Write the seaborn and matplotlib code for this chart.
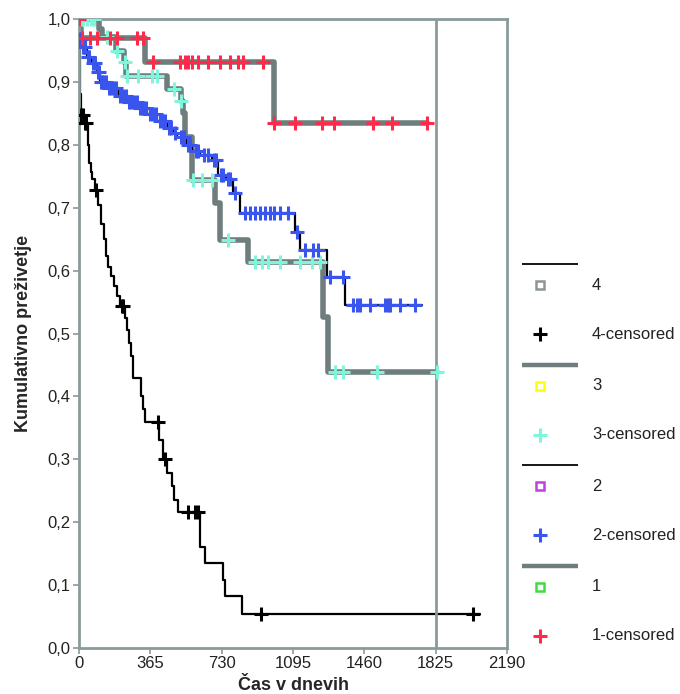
import numpy as np
import pandas as pd
import seaborn as sns
import matplotlib
matplotlib.use("Agg")
import matplotlib.pyplot as plt

# Kaplan-Meier steps (time in days, survival after each step)
g1_t = [0, 4, 8, 338, 998, 1781]
g1_s = [1.0, 0.985, 0.970, 0.932, 0.835, 0.835]
g1_cens = [0, 15, 56, 92, 159, 194, 297, 328, 379, 517, 542, 558, 578, 609, 660,
           722, 773, 814, 839, 942, 998, 1105, 1244, 1305, 1505, 1602, 1781]

g2_t = [0, 2, 15, 40, 60, 90, 110, 150, 200, 250, 300, 350, 400, 450, 480, 500,
        545, 580, 620, 680, 711, 750, 788, 824, 1105, 1131, 1269, 1361, 1755]
g2_s = [1.0, 0.968, 0.955, 0.940, 0.930, 0.915, 0.900, 0.890, 0.877, 0.868, 0.858,
        0.849, 0.838, 0.826, 0.819, 0.812, 0.800, 0.790, 0.783, 0.776, 0.752, 0.745,
        0.723, 0.692, 0.661, 0.633, 0.590, 0.545, 0.545]
g2_cens = [5, 10, 20, 25, 30, 45, 50, 70, 80, 95, 100, 115, 120, 130, 140, 155, 165,
           180, 190, 210, 225, 240, 255, 265, 280, 295, 310, 320, 330, 345, 365, 380,
           395, 415, 430, 440, 460, 470, 490, 520, 535, 560, 570, 600, 610, 640, 660,
           690, 700, 725, 735, 760, 775, 800, 849, 875, 900, 925, 952, 977, 1000,
           1029, 1069, 1115, 1156, 1197, 1223, 1284, 1351, 1402, 1420, 1438, 1489,
           1566, 1580, 1592, 1643, 1719]

g3_t = [0, 100, 118, 190, 230, 240, 450, 520, 530, 540, 578, 696, 721, 865, 1249,
        1274, 1832]
g3_s = [1.0, 0.984, 0.971, 0.949, 0.932, 0.909, 0.889, 0.870, 0.850, 0.812, 0.744,
        0.707, 0.649, 0.614, 0.526, 0.439, 0.439]
g3_cens = [5, 20, 40, 60, 75, 143, 194, 235, 246, 300, 374, 400, 486, 522, 583, 629,
           681, 762, 901, 936, 967, 1029, 1131, 1192, 1233, 1310, 1351, 1525, 1832]

g4_t = [0, 1, 3, 5, 8, 25, 45, 51, 60, 67, 80, 97, 113, 128, 136, 150, 164, 178, 195,
        210, 235, 246, 258, 266, 276, 317, 328, 338, 410, 430, 450, 476, 486, 507,
        619, 645, 737, 745, 834, 2052]
g4_s = [1.0, 0.96, 0.92, 0.88, 0.847, 0.835, 0.80, 0.771, 0.757, 0.745, 0.728, 0.704,
        0.674, 0.650, 0.623, 0.605, 0.591, 0.575, 0.560, 0.543, 0.525, 0.505, 0.485,
        0.465, 0.429, 0.40, 0.38, 0.359, 0.33, 0.30, 0.278, 0.257, 0.235, 0.216,
        0.161, 0.135, 0.108, 0.083, 0.054, 0.054]
g4_cens = [12, 18, 30, 38, 87, 220, 225, 404, 440, 558, 595, 609, 931, 2016]

x_ticks = [0, 365, 730, 1095, 1460, 1825, 2190]
y_ticks = [0.0, 0.1, 0.2, 0.3, 0.4, 0.5, 0.6, 0.7, 0.8, 0.9, 1.0]
y_labels = ["0,0", "0,1", "0,2", "0,3", "0,4", "0,5", "0,6", "0,7", "0,8", "0,9", "1,0"]

groups = ["4", "3", "2", "1"]
curves = {"4": (g4_t, g4_s, g4_cens), "3": (g3_t, g3_s, g3_cens),
          "2": (g2_t, g2_s, g2_cens), "1": (g1_t, g1_s, g1_cens)}

GRAY = "#6f7d7d"
FRAME = "#8a9a9a"
line_col = {"4": "black", "3": GRAY, "2": "black", "1": GRAY}
line_w = {"4": 1.6, "3": 4.0, "2": 1.6, "1": 4.0}
cross_col = {"4": "black", "3": "#7ff5dc", "2": "#3a55ee", "1": "#ff2a4a"}
square_col = {"4": "#8c9696", "3": "#ffff00", "2": "#c040e0", "1": "#40dd40"}

sns.set_style("white", {"xtick.bottom": True, "ytick.left": True})
plt.rcParams["font.family"] = ["Liberation Sans", "DejaVu Sans"]

fig = plt.figure(figsize=(6.8, 6.94), dpi=100)
ax = fig.add_axes([79 / 680, 46 / 694, 428 / 680, 629 / 694])

for g in groups:
    t, s, _ = curves[g]
    sns.lineplot(x=t, y=s, drawstyle="steps-post", color=line_col[g],
                 lw=line_w[g], ax=ax, sort=False, estimator=None)

for g in groups:
    t, s, cens = curves[g]
    idx = np.searchsorted(t, cens, side="right") - 1
    cy = np.array(s)[np.clip(idx, 0, len(s) - 1)]
    df = pd.DataFrame({"t": cens, "s": cy})
    sns.scatterplot(data=df, x="t", y="s", marker="+", s=110, linewidth=2.2,
                    color=cross_col[g], ax=ax, zorder=5)

ax.axvline(1825, color=FRAME, lw=2)
ax.set_xlim(0, 2190)
ax.set_ylim(0, 1.0)
ax.set_xticks(x_ticks)
ax.set_yticks(y_ticks)
ax.set_yticklabels(y_labels)
ax.tick_params(axis="both", direction="out", length=4, width=1.2, color=FRAME,
               labelsize=12, pad=2, bottom=True, left=True, labelcolor="#222222")
for sp in ax.spines.values():
    sp.set_color(FRAME)
    sp.set_linewidth(2)
ax.set_xlabel("Čas v dnevih", fontsize=13, fontweight="bold", labelpad=4)
ax.set_ylabel("Kumulativno preživetje", fontsize=13, fontweight="bold", labelpad=11)

# legend drawn on an overlay in pixel coordinates
lax = fig.add_axes([0, 0, 1, 1])
lax.set_xlim(0, 680)
lax.set_ylim(694, 0)
lax.axis("off")
for i, g in enumerate(groups):
    y0 = 264 + 100.5 * i
    lax.plot([522, 578], [y0, y0], color=line_col[g], lw=line_w[g] * 0.8,
             solid_capstyle="butt")
    lax.plot(540, y0 + 21, marker="s", ms=6, mfc="white", mec=square_col[g], mew=1.8)
    lax.text(592, y0 + 21, g, fontsize=12, va="center", ha="left", color="#222222")
    lax.plot(540, y0 + 70, marker="+", ms=10, color=cross_col[g], mew=2.2)
    lax.text(592, y0 + 70, g + "-censored", fontsize=12, va="center", ha="left",
             color="#222222")

fig.savefig("out.png", dpi=100)
